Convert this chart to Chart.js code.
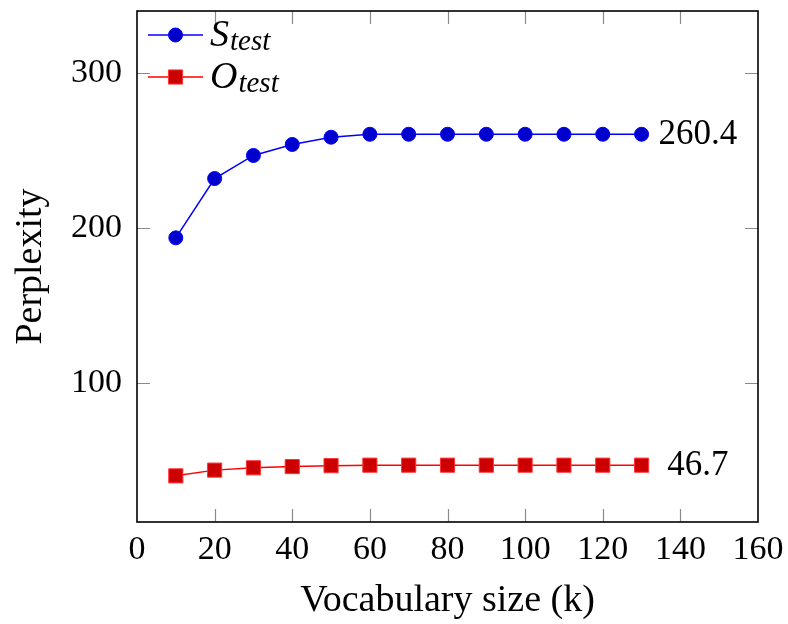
<!DOCTYPE html>
<html>
<head>
<meta charset="utf-8">
<script src="https://cdn.jsdelivr.net/npm/chart.js@4/dist/chart.umd.min.js"></script>
<style>
  html, body { margin: 0; padding: 0; background: #fff; }
  #wrap { width: 788px; height: 624px; }
</style>
</head>
<body>
<div id="wrap"><canvas id="chart" width="788" height="624"></canvas></div>
<script>
const vocabSizes = [10, 20, 30, 40, 50, 60, 70, 80, 90, 100, 110, 120, 130];
const sTest = [193.5, 231.8, 246.7, 253.8, 258.5, 260.4, 260.4, 260.4, 260.4, 260.4, 260.4, 260.4, 260.4];
const oTest = [39.8, 43.5, 45.0, 45.8, 46.4, 46.7, 46.7, 46.7, 46.7, 46.7, 46.7, 46.7, 46.7];
const seriesNames = ["S", "O"];
const seriesSubs = ["test", "test"];
const endLabels = ["260.4", "46.7"];
const xTicks = [0, 20, 40, 60, 80, 100, 120, 140, 160];
const yTicks = [100, 200, 300];

const serif = "'Liberation Serif', 'DejaVu Serif', serif";
const tickLen = 13;

// frame, inward ticks, end labels and legend (pgfplots style)
const pgfDecor = {
  id: "pgfDecor",
  afterDraw(chart) {
    const { ctx, chartArea: a, scales } = chart;
    const xs = scales.x, ys = scales.y;
    ctx.save();

    ctx.strokeStyle = "#8a8a8a";
    ctx.lineWidth = 1.2;
    ctx.beginPath();
    xTicks.forEach((t) => {
      if (t === 0 || t === 160) return;
      const px = Math.round(xs.getPixelForValue(t)) + 0.5;
      ctx.moveTo(px, a.bottom); ctx.lineTo(px, a.bottom - tickLen);
      ctx.moveTo(px, a.top); ctx.lineTo(px, a.top + tickLen);
    });
    yTicks.forEach((t) => {
      const py = Math.round(ys.getPixelForValue(t)) + 0.5;
      ctx.moveTo(a.left, py); ctx.lineTo(a.left + tickLen, py);
      ctx.moveTo(a.right, py); ctx.lineTo(a.right - tickLen, py);
    });
    ctx.stroke();

    ctx.strokeStyle = "#000";
    ctx.lineWidth = 1.6;
    ctx.strokeRect(a.left, a.top, a.right - a.left, a.bottom - a.top);

    // value labels next to the last points
    ctx.fillStyle = "#000";
    ctx.font = "35px " + serif;
    ctx.textAlign = "center";
    ctx.textBaseline = "middle";
    chart.data.datasets.forEach((ds, i) => {
      const last = ds.data[ds.data.length - 1];
      ctx.fillText(endLabels[i], xs.getPixelForValue(last.x + 14.5), ys.getPixelForValue(last.y) + 1);
    });

    // legend
    const rows = [35, 77];
    chart.data.datasets.forEach((ds, i) => {
      const y = rows[i];
      ctx.strokeStyle = ds.borderColor;
      ctx.lineWidth = 1.5;
      ctx.beginPath();
      ctx.moveTo(148, y); ctx.lineTo(203, y);
      ctx.stroke();
      ctx.fillStyle = ds.pointBackgroundColor;
      ctx.strokeStyle = ds.pointBorderColor;
      ctx.lineWidth = 1;
      ctx.beginPath();
      if (ds.pointStyle === "circle") {
        ctx.arc(175.5, y, ds.pointRadius, 0, Math.PI * 2);
      } else {
        const s = ds.pointRadius * Math.SQRT1_2;
        ctx.rect(175.5 - s, y - s, 2 * s, 2 * s);
      }
      ctx.fill(); ctx.stroke();

      ctx.fillStyle = "#000";
      ctx.textAlign = "left";
      ctx.textBaseline = "alphabetic";
      ctx.font = "italic 38px " + serif;
      ctx.fillText(seriesNames[i], 210, y + 11);
      const w = ctx.measureText(seriesNames[i]).width;
      ctx.font = "italic 29px " + serif;
      ctx.fillText(seriesSubs[i], 210 + w + 1, y + 15);
    });

    ctx.restore();
  }
};

const toPoints = (values) => values.map((v, i) => ({ x: vocabSizes[i], y: v }));

new Chart(document.getElementById("chart"), {
  type: "line",
  data: {
    datasets: [
      {
        label: "S_test",
        data: toPoints(sTest),
        borderColor: "#0000ff",
        borderWidth: 1.5,
        pointStyle: "circle",
        pointRadius: 7,
        pointBackgroundColor: "#0000cc",
        pointBorderColor: "#0000ff",
        pointBorderWidth: 1,
        tension: 0,
        fill: false
      },
      {
        label: "O_test",
        data: toPoints(oTest),
        borderColor: "#ff0000",
        borderWidth: 1.5,
        pointStyle: "rect",
        pointRadius: 10,
        pointBackgroundColor: "#cc0000",
        pointBorderColor: "#ff3333",
        pointBorderWidth: 1,
        tension: 0,
        fill: false
      }
    ]
  },
  options: {
    responsive: false,
    animation: false,
    devicePixelRatio: 1,
    layout: { padding: { left: 0, right: 30, top: 6, bottom: 0 } },
    plugins: { legend: { display: false }, tooltip: { enabled: false } },
    scales: {
      x: {
        type: "linear",
        min: 0,
        max: 160,
        afterBuildTicks: (scale) => { scale.ticks = xTicks.map((v) => ({ value: v })); },
        afterFit: (scale) => {
          scale.height = 102;
          scale.paddingLeft = 0;
          scale.paddingRight = 0;
        },
        grid: { display: false, drawTicks: false },
        border: { display: false },
        ticks: { color: "#000", font: { family: serif, size: 34 }, padding: 8, maxRotation: 0 },
        title: {
          display: true,
          text: "Vocabulary size (k)",
          color: "#000",
          font: { family: serif, size: 38 },
          padding: { top: 2, bottom: 0 }
        }
      },
      y: {
        type: "linear",
        min: 10,
        max: 340,
        afterBuildTicks: (scale) => { scale.ticks = yTicks.map((v) => ({ value: v })); },
        afterFit: (scale) => {
          scale.width = 137;
          scale.paddingTop = 0;
          scale.paddingBottom = 0;
        },
        grid: { display: false, drawTicks: false },
        border: { display: false },
        ticks: { color: "#000", font: { family: serif, size: 34 }, padding: 15 },
        title: {
          display: true,
          text: "Perplexity",
          color: "#000",
          font: { family: serif, size: 38 },
          padding: { top: 8, bottom: 0 }
        }
      }
    }
  },
  plugins: [pgfDecor]
});
</script>
</body>
</html>
